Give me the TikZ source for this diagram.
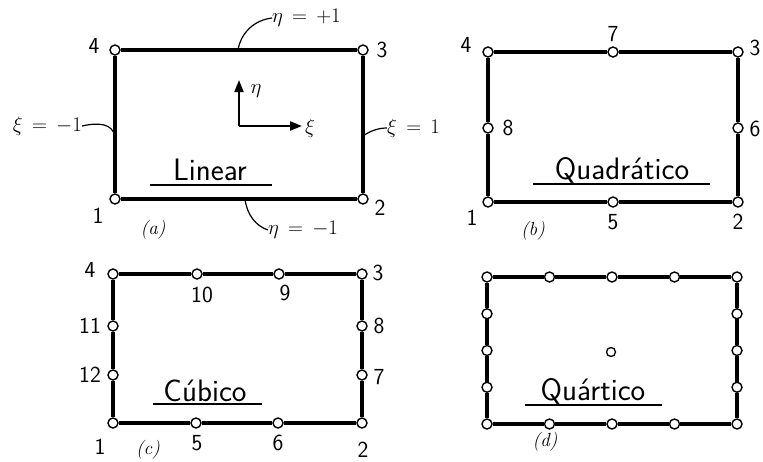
\documentclass[tikz,border=0pt]{standalone}
\usetikzlibrary{arrows.meta}
\begin{document}
\begin{tikzpicture}[x=1pt,y=-1pt,
  nd/.style={circle,draw,fill=white,line width=1.4pt,minimum size=10pt,inner sep=0pt},
  cn/.style={circle,draw,fill=white,line width=1.3pt,minimum size=9pt,inner sep=0pt},
  edgeline/.style={line width=3.4pt},
  lbl/.style={font=\sffamily\fontsize{23}{26}\selectfont,inner sep=0pt},
  ttl/.style={font=\sffamily\fontsize{31}{34}\selectfont,inner sep=0pt},
  capt/.style={font=\itshape\fontsize{19}{21}\selectfont,inner sep=0pt},
  eqn/.style={font=\fontsize{20}{22}\selectfont,inner sep=0pt},
  lead/.style={line width=1.2pt},
  ul/.style={line width=1.8pt},
  axis/.style={line width=2pt,-{Triangle[length=12pt,width=9pt]}}]
\useasboundingbox (0,0) rectangle (763,461);

% ---------------- (a) Linear ----------------
\node[nd] (a1) at (115,199) {};
\node[nd] (a2) at (363,199) {};
\node[nd] (a3) at (363,50) {};
\node[nd] (a4) at (115,50) {};
\draw[edgeline] (a1) -- (a2) -- (a3) -- (a4) -- (a1);
\node[lbl] (la4) at (94,46) {4};
\node[lbl] (la3) at (382,50) {3};
\node[lbl] (la1) at (98,216) {1};
\node[lbl] (la2) at (380,208) {2};
\node[capt] (ca) at (153,230) {(a)};
% axes
\coordinate (o) at (239,126);
\coordinate (eta) at (239,80);
\coordinate (xi) at (302,126);
\draw[axis] (o) -- (eta);
\draw[axis] (o) -- (xi);
\node[eqn] (leta) at (256,91) {$\eta$};
\node[eqn] (lxi) at (310,128) {$\xi$};
% edge labels
\node[eqn,anchor=west] (etap) at (272,18) {$\eta\,=\,+1$};
\coordinate (etapE) at (238,50);
\draw[lead] (etapE) .. controls (241,32) and (255,20) .. (etap.west);
\node[eqn,anchor=west] (etam) at (268,230) {$\eta\,=\,-1$};
\coordinate (etamE) at (245,199);
\draw[lead] (etamE) .. controls (247,215) and (256,226) .. (etam.west);
\node[eqn,anchor=east] (xim) at (82,126) {$\xi\,=\,-1$};
\coordinate (ximE) at (115,136);
\draw[lead] (xim.east) .. controls (100,122) and (112,124) .. (ximE);
\node[eqn,anchor=west] (xip) at (387,128) {$\xi\,=\,1$};
\coordinate (xipE) at (363,136);
\draw[lead] (xipE) .. controls (370,131) and (378,128) .. (xip.west);
% title
\node[ttl] (ta) at (210,170) {Linear};
\coordinate (ua1) at (150,185);
\coordinate (ua2) at (272,185);
\draw[ul] (ua1) -- (ua2);

% ---------------- (b) Quadratico ----------------
\node[nd] (b1) at (488,202) {};
\node[nd] (b5) at (613,202) {};
\node[nd] (b2) at (738,202) {};
\node[nd] (b6) at (738,128) {};
\node[nd] (b3) at (738,52) {};
\node[nd] (b7) at (613,52) {};
\node[nd] (b4) at (488,52) {};
\node[nd] (b8) at (488,128) {};
\draw[edgeline] (b1) -- (b5) -- (b2) -- (b6) -- (b3) -- (b7) -- (b4) -- (b8) -- (b1);
\node[lbl] (lb4) at (466,45) {4};
\node[lbl] (lb7) at (613,34) {7};
\node[lbl] (lb3) at (755,48) {3};
\node[lbl] (lb8) at (508,128) {8};
\node[lbl] (lb6) at (755,129) {6};
\node[lbl] (lb1) at (472,218) {1};
\node[lbl] (lb5) at (613,222) {5};
\node[lbl] (lb2) at (738,222) {2};
\node[capt] (cb) at (533,231) {(b)};
\node[ttl] (tb) at (622,170) {Quadrático};
\coordinate (ub1) at (533,184);
\coordinate (ub2) at (710,184);
\draw[ul] (ub1) -- (ub2);

% ---------------- (c) Cubico ----------------
\node[nd] (c1) at (113,423) {};
\node[nd] (c5) at (196,423) {};
\node[nd] (c6) at (278,423) {};
\node[nd] (c2) at (362,423) {};
\node[nd] (c7) at (362,375) {};
\node[nd] (c8) at (362,326) {};
\node[nd] (c3) at (362,274) {};
\node[nd] (c9) at (279,274) {};
\node[nd] (c10) at (197,274) {};
\node[nd] (c4) at (113,274) {};
\node[nd] (c11) at (113,326) {};
\node[nd] (c12) at (113,375) {};
\draw[edgeline] (c1) -- (c5) -- (c6) -- (c2) -- (c7) -- (c8) -- (c3) -- (c9) -- (c10) -- (c4) -- (c11) -- (c12) -- (c1);
\node[lbl] (lc4) at (90,270) {4};
\node[lbl] (lc3) at (378,273) {3};
\node[lbl] (lc10) at (202,295) {10};
\node[lbl] (lc9) at (285,293) {9};
\node[lbl] (lc11) at (90,326) {11};
\node[lbl] (lc12) at (90,375) {12};
\node[lbl] (lc8) at (379,326) {8};
\node[lbl] (lc7) at (379,377) {7};
\node[lbl] (lc1) at (100,447) {1};
\node[lbl] (lc5) at (197,443) {5};
\node[lbl] (lc6) at (278,443) {6};
\node[lbl] (lc2) at (363,450) {2};
\node[capt] (cc) at (148,450) {(c)};
\node[ttl] (tc) at (205,391) {Cúbico};
\coordinate (uc1) at (153,404);
\coordinate (uc2) at (262,404);
\draw[ul] (uc1) -- (uc2);

% ---------------- (d) Quartico ----------------
\foreach \i/\x in {0/487,1/549.5,2/612,3/674.5,4/737} {
  \node[nd] (dt\i) at (\x,277) {};
  \node[nd] (db\i) at (\x,424) {};
}
\foreach \i/\y in {1/313.75,2/350.5,3/387.25} {
  \node[nd] (dl\i) at (487,\y) {};
  \node[nd] (dr\i) at (737,\y) {};
}
\draw[edgeline] (db0) -- (db1) -- (db2) -- (db3) -- (db4) -- (dr3) -- (dr2) -- (dr1) -- (dt4) -- (dt3) -- (dt2) -- (dt1) -- (dt0) -- (dl1) -- (dl2) -- (dl3) -- (db0);
\node[cn] (dc) at (611,352) {};
\node[capt] (cd) at (545,442) {(d)};
\node[ttl] (td) at (593,391) {Quártico};
\coordinate (ud1) at (525,405);
\coordinate (ud2) at (662,405);
\draw[ul] (ud1) -- (ud2);
\end{tikzpicture}
\end{document}
